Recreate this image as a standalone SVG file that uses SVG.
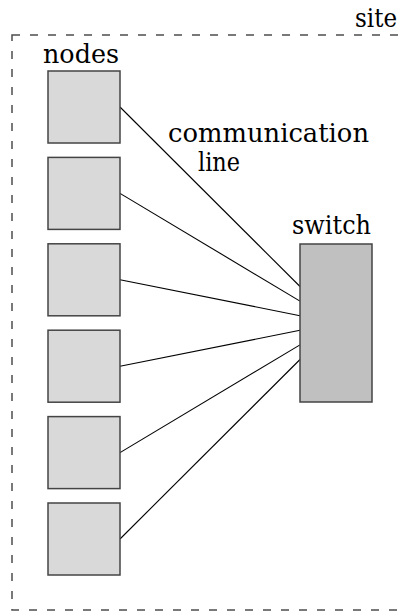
<svg xmlns="http://www.w3.org/2000/svg" width="401" height="612" viewBox="0 0 401 612">
  <style>
    .lbl { font-family: "DejaVu Serif", "Liberation Serif", serif; font-size: 26px; fill: #000; }
    .node rect { fill: #d9d9d9; stroke: #444; stroke-width: 1.5; }
    .switch rect { fill: #c0c0c0; stroke: #444; stroke-width: 1.5; }
    .site { fill: none; stroke: #4d4d4d; stroke-width: 1.5; stroke-dasharray: 8 10; }
    .links line { stroke: #000; stroke-width: 1.1; }
  </style>

  <!-- site boundary -->
  <g id="site">
    <rect class="site" x="12" y="35" width="400" height="575"/>
    <text class="lbl" x="397" y="27" text-anchor="end" textLength="42" lengthAdjust="spacingAndGlyphs">site</text>
  </g>

  <text class="lbl" x="43" y="63" textLength="76" lengthAdjust="spacingAndGlyphs">nodes</text>

  <!-- connectors -->
  <g id="links" class="links">
    <line x1="120" y1="107" x2="300" y2="286.5"/>
    <line x1="120" y1="193.4" x2="300" y2="301.1"/>
    <line x1="120" y1="279.8" x2="300" y2="315.7"/>
    <line x1="120" y1="366.2" x2="300" y2="330.3"/>
    <line x1="120" y1="452.6" x2="300" y2="344.9"/>
    <line x1="120" y1="539" x2="300" y2="359.5"/>
  </g>

  <text class="lbl" x="168" y="142" textLength="201" lengthAdjust="spacingAndGlyphs">communication</text>
  <text class="lbl" x="198" y="171" textLength="42" lengthAdjust="spacingAndGlyphs">line</text>

  <!-- nodes -->
  <g id="node1" class="node"><rect x="48" y="71" width="72" height="72"/></g>
  <g id="node2" class="node"><rect x="48" y="157.4" width="72" height="72"/></g>
  <g id="node3" class="node"><rect x="48" y="243.8" width="72" height="72"/></g>
  <g id="node4" class="node"><rect x="48" y="330.2" width="72" height="72"/></g>
  <g id="node5" class="node"><rect x="48" y="416.6" width="72" height="72"/></g>
  <g id="node6" class="node"><rect x="48" y="503" width="72" height="72"/></g>

  <!-- switch -->
  <g id="switch" class="switch">
    <rect x="300" y="244" width="72" height="158"/>
    <text class="lbl" x="292" y="234" textLength="79" lengthAdjust="spacingAndGlyphs">switch</text>
  </g>
</svg>
